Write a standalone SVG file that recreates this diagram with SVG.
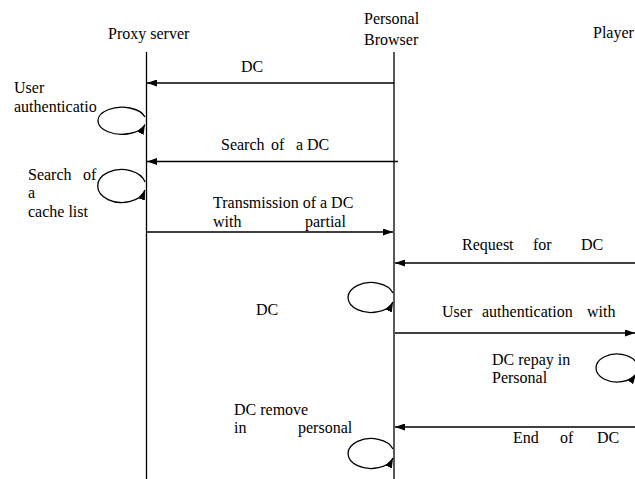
<svg xmlns="http://www.w3.org/2000/svg" width="635" height="479" viewBox="0 0 635 479">
<defs>
<style>
text{font-family:'Liberation Serif','Times New Roman',serif;font-size:16px;fill:#000}
.ln{stroke:#000;stroke-width:1.3;fill:none}
</style>
<marker id="ah" markerUnits="userSpaceOnUse" markerWidth="10" markerHeight="7" refX="10" refY="3.5" orient="auto">
<path d="M0,0 L10,3.5 L0,7 z" fill="#000"/>
</marker>
</defs>
<rect width="635" height="479" fill="#fff"/>
<g id="proxy">
<text x="108" y="39">Proxy server</text>
<line class="ln" x1="146.5" y1="52" x2="146.5" y2="479"/>
</g>
<g id="browser">
<text x="364" y="24">Personal</text>
<text x="364" y="45">Browser</text>
<line class="ln" x1="394" y1="52" x2="394" y2="479"/>
</g>
<g id="player">
<text x="593" y="38">Player</text>
</g>
<g id="connectors">
<line class="ln" x1="394" y1="83" x2="147" y2="83" marker-end="url(#ah)"/>
<line class="ln" x1="398" y1="161.5" x2="147" y2="161.5" marker-end="url(#ah)"/>
<line class="ln" x1="147" y1="232" x2="393" y2="232" marker-end="url(#ah)"/>
<line class="ln" x1="635" y1="263" x2="395" y2="263" marker-end="url(#ah)"/>
<line class="ln" x1="395" y1="333" x2="635" y2="333" marker-end="url(#ah)"/>
<line class="ln" x1="635" y1="427" x2="395" y2="427" marker-end="url(#ah)"/>
<path class="ln" d="M145,117 A24,13.5 0 1 0 145,124.5" marker-end="url(#ah)"/>
<path class="ln" d="M145,182 A24,16.5 0 1 0 145,190" marker-end="url(#ah)"/>
<path class="ln" d="M393,293 A23,15 0 1 0 393,302" marker-end="url(#ah)"/>
<path class="ln" d="M636,362 A21,14 0 1 0 636,374" marker-end="url(#ah)"/>
<path class="ln" d="M393,449 A23,15 0 1 0 393,458" marker-end="url(#ah)"/>
</g>
<g id="labels">
<text x="241" y="72">DC</text>
<text x="14" y="93">User</text>
<text x="14" y="112">authenticatio</text>
<text x="221" y="150">Search</text>
<text x="271" y="150">of</text>
<text x="296" y="150">a</text>
<text x="307" y="150">DC</text>
<text x="28" y="180">Search</text>
<text x="83" y="180">of</text>
<text x="28" y="198">a</text>
<text x="28" y="217">cache list</text>
<text x="213" y="208">Transmission of a DC</text>
<text x="213" y="227">with</text>
<text x="305" y="227">partial</text>
<text x="462" y="250">Request</text>
<text x="533" y="250">for</text>
<text x="581" y="250">DC</text>
<text x="256" y="315">DC</text>
<text x="442" y="317">User</text>
<text x="482" y="317">authentication</text>
<text x="587" y="317">with</text>
<text x="492" y="365">DC repay in</text>
<text x="492" y="383">Personal</text>
<text x="234" y="415">DC remove</text>
<text x="234" y="433">in</text>
<text x="298" y="433">personal</text>
<text x="513" y="443">End</text>
<text x="560" y="443">of</text>
<text x="597" y="443">DC</text>
</g>
</svg>
